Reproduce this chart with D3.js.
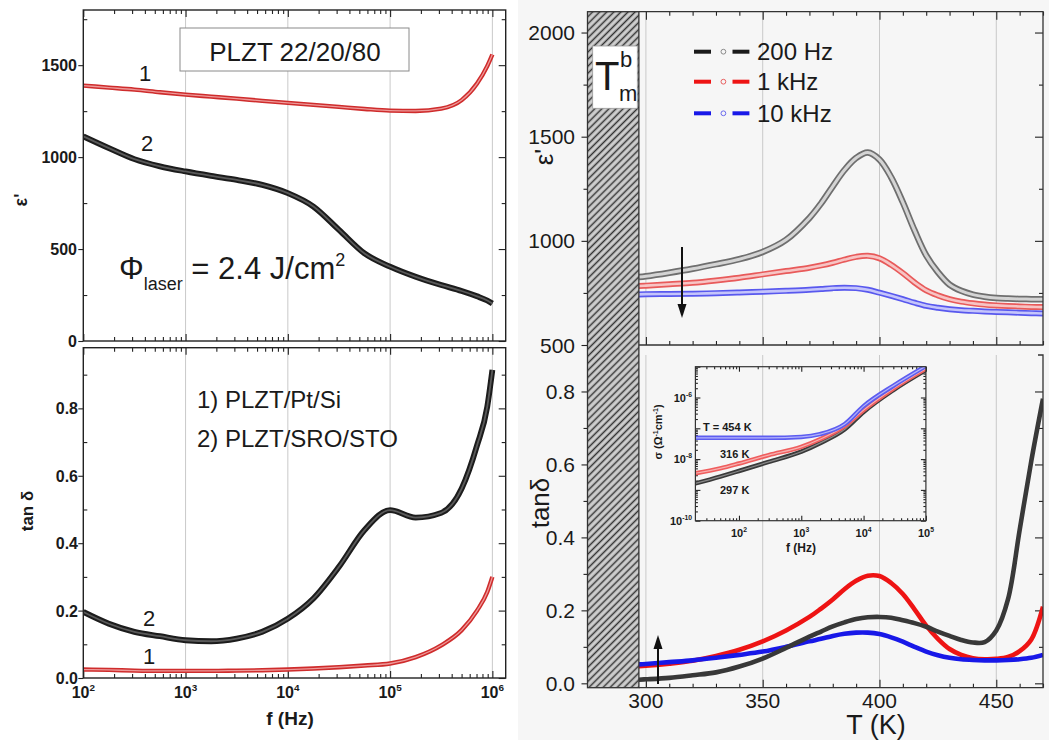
<!DOCTYPE html>
<meta charset="utf-8">
<style>
body { margin: 0; background: #fff; }
text { font-family: "Liberation Sans", Arial, Helvetica, sans-serif; fill: #1a1a1a; }
.tk line { stroke: #222; stroke-width: 1.1; }
.grid { stroke: #c9c9c9; stroke-width: 1; }
</style>
<body>
<script src="https://d3js.org/d3.v7.min.js"></script>
<script>
// ---------- left: room temperature spectra ----------
var freqL = [100, 178, 316, 562, 1000, 1778, 3162, 5623, 10000, 17783, 31623, 56234,
             100000, 177828, 316228, 501187, 707946, 891251, 1000000];
// curve 1 = PLZT/Pt/Si (red), curve 2 = PLZT/SRO/STO (black)
var epsPtSi = [1389, 1378, 1367, 1353, 1340, 1329, 1318, 1306, 1295, 1284, 1273, 1262,
               1253, 1251, 1264, 1310, 1400, 1495, 1558];
var epsSro  = [1113, 1049, 989, 950, 922, 898, 876, 849, 804, 731, 604, 476,
               404, 349, 304, 272, 243, 220, 204];
var tanPtSi = [0.025, 0.024, 0.022, 0.021, 0.021, 0.021, 0.022, 0.023, 0.025, 0.028, 0.032, 0.037,
               0.043, 0.062, 0.097, 0.142, 0.2, 0.255, 0.3];
var tanSro  = [0.196, 0.161, 0.137, 0.124, 0.112, 0.109, 0.117, 0.137, 0.176, 0.236, 0.33, 0.439,
               0.498, 0.476, 0.49, 0.562, 0.69, 0.805, 0.914];

// ---------- right: temperature dependence ----------
var tempK = [297, 300, 310, 320, 330, 340, 350, 360, 370, 375, 380, 385, 390, 395, 400,
             405, 410, 415, 420, 425, 430, 435, 440, 445, 450, 455, 460, 465, 470];
var eps200 = [826, 830, 847, 866, 888, 912, 947, 1005, 1110, 1180, 1262, 1340, 1398, 1424, 1390,
              1305, 1185, 1050, 930, 850, 790, 760, 742, 732, 726, 723, 721, 720, 720];
var eps1k  = [783, 785, 792, 799, 810, 823, 839, 855, 871, 882, 895, 910, 923, 928, 916,
              885, 845, 800, 762, 738, 720, 708, 700, 694, 690, 687, 685, 683, 682];
var eps10k = [743, 744, 745, 746, 749, 752, 756, 760, 765, 769, 773, 775, 773, 765, 751,
              736, 720, 703, 688, 679, 672, 667, 664, 661, 659, 657, 655, 653, 651];
var tan200 = [0.010, 0.011, 0.015, 0.022, 0.030, 0.046, 0.068, 0.097, 0.128, 0.142, 0.156, 0.167, 0.176, 0.181, 0.182,
              0.180, 0.173, 0.165, 0.155, 0.142, 0.130, 0.119, 0.112, 0.113, 0.145, 0.23, 0.42, 0.61, 0.78];
var tan1k  = [0.047, 0.048, 0.054, 0.062, 0.075, 0.092, 0.115, 0.145, 0.182, 0.205, 0.23, 0.258, 0.281, 0.295, 0.294,
              0.275, 0.245, 0.203, 0.158, 0.122, 0.094, 0.078, 0.069, 0.066, 0.067, 0.072, 0.088, 0.12, 0.21];
var tan10k = [0.052, 0.053, 0.058, 0.063, 0.070, 0.078, 0.087, 0.100, 0.115, 0.122, 0.130, 0.136, 0.139, 0.139, 0.135,
              0.126, 0.114, 0.100, 0.087, 0.077, 0.070, 0.066, 0.064, 0.063, 0.063, 0.064, 0.066, 0.070, 0.078];
var legendLabels = ["200 Hz", "1 kHz", "10 kHz"];

// inset: conductivity spectra
var freqIn = [20, 50, 100, 300, 1000, 2000, 5000, 10000, 30000, 100000];
var sig454 = [4.9e-8, 4.9e-8, 4.9e-8, 4.9e-8, 5.25e-8, 6.46e-8, 1.38e-7, 5.25e-7, 2.4e-6, 1.05e-5];
var sig316 = [3.47e-9, 5.0e-9, 7.2e-9, 1.35e-8, 2.5e-8, 4.4e-8, 1.2e-7, 3.9e-7, 1.95e-6, 8.7e-6];
var sig297 = [1.62e-9, 2.7e-9, 4.1e-9, 8.1e-9, 1.74e-8, 3.3e-8, 9.3e-8, 3.4e-7, 1.74e-6, 7.8e-6];

var svg = d3.select("body").append("svg").attr("width", 1049).attr("height", 740);
svg.append("rect").attr("width", 1049).attr("height", 740).attr("fill", "#fff");
svg.append("rect").attr("x", 518).attr("width", 531).attr("height", 740).attr("fill", "#f6f6f6");

var defs = svg.append("defs");
var pat = defs.append("pattern").attr("id", "hatch").attr("patternUnits", "userSpaceOnUse")
    .attr("width", 5).attr("height", 5).attr("patternTransform", "rotate(45)");
pat.append("rect").attr("width", 5).attr("height", 5).attr("fill", "#cfcfcf");
pat.append("line").attr("x1", 2.5).attr("y1", 0).attr("x2", 2.5).attr("y2", 5)
    .attr("stroke", "#333").attr("stroke-width", 1.5);

function clip(id, x0, y0, x1, y1) {
  defs.append("clipPath").attr("id", id).append("rect")
      .attr("x", x0).attr("y", y0).attr("width", x1 - x0).attr("height", y1 - y0);
}

// draw ticks only (no domain) with a d3 axis
function ticks(axisFn, scale, vals, size, tr) {
  svg.append("g").attr("class", "tk").attr("transform", tr)
     .call(axisFn(scale).tickValues(vals).tickSize(size).tickFormat(""))
     .call(function(s) { s.select(".domain").remove(); });
}
function logMinor(lo, hi) {
  var out = [];
  for (var k = -12; k < 8; k++) for (var m = 2; m < 10; m++) {
    var v = m * Math.pow(10, k);
    if (v > lo && v < hi) out.push(v);
  }
  return out;
}
function powText(x, y, base, exp, size, anchor, weight) {
  var t = svg.append("text").attr("x", x).attr("y", y).attr("text-anchor", anchor)
      .style("font-size", size + "px").style("font-weight", weight || "normal");
  t.append("tspan").text(base);
  t.append("tspan").attr("dy", -size * 0.45).style("font-size", (size * 0.62) + "px").text(exp);
  return t;
}
function band(g, line, data, outer, inner, wo, wi) {
  g.append("path").datum(data).attr("d", line).attr("fill", "none")
   .attr("stroke", outer).attr("stroke-width", wo).attr("stroke-linejoin", "round");
  if (inner) g.append("path").datum(data).attr("d", line).attr("fill", "none")
   .attr("stroke", inner).attr("stroke-width", wi).attr("stroke-linejoin", "round");
}
function frame(x0, y0, x1, y1, col, w) {
  svg.append("rect").attr("x", x0).attr("y", y0).attr("width", x1 - x0).attr("height", y1 - y0)
     .attr("fill", "none").attr("stroke", col || "#222").attr("stroke-width", w || 1.3);
}

// ================= LEFT PANELS =================
var LX0 = 83.3, LX1 = 505.7;
var xL = d3.scaleLog().domain([100, 1.35e6]).range([LX0, LX1]);
var yLt = d3.scaleLinear().domain([0, 1800]).range([341, 10]);
var yLb = d3.scaleLinear().domain([0, 0.98]).range([678, 347.7]);
var decL = [1e2, 1e3, 1e4, 1e5, 1e6];
var minL = logMinor(100, 1.35e6);

[[yLt, 10, 341], [yLb, 347.7, 678]].forEach(function(p) {
  svg.selectAll(null).data([1e3, 1e4, 1e5, 1e6]).enter().append("line").attr("class", "grid")
     .attr("x1", function(d) { return xL(d); }).attr("x2", function(d) { return xL(d); })
     .attr("y1", p[1]).attr("y2", p[2]);
  ticks(d3.axisTop, xL, decL, -7, "translate(0," + p[1] + ")");
  ticks(d3.axisTop, xL, minL, -4, "translate(0," + p[1] + ")");
  ticks(d3.axisBottom, xL, decL, -7, "translate(0," + p[2] + ")");
  ticks(d3.axisBottom, xL, minL, -4, "translate(0," + p[2] + ")");
});
ticks(d3.axisLeft, yLt, [0, 500, 1000, 1500], 5, "translate(" + LX0 + ",0)");
ticks(d3.axisLeft, yLt, [250, 750, 1250, 1750], -4, "translate(" + LX0 + ",0)");
ticks(d3.axisRight, yLt, [0, 500, 1000, 1500], -7, "translate(" + LX1 + ",0)");
ticks(d3.axisRight, yLt, [250, 750, 1250, 1750], -4, "translate(" + LX1 + ",0)");
ticks(d3.axisLeft, yLb, [0, 0.2, 0.4, 0.6, 0.8], 5, "translate(" + LX0 + ",0)");
ticks(d3.axisLeft, yLb, [0.1, 0.3, 0.5, 0.7, 0.9], -4, "translate(" + LX0 + ",0)");
ticks(d3.axisRight, yLb, [0, 0.2, 0.4, 0.6, 0.8], -7, "translate(" + LX1 + ",0)");
ticks(d3.axisRight, yLb, [0.1, 0.3, 0.5, 0.7, 0.9], -4, "translate(" + LX1 + ",0)");

clip("cLt", LX0, 10, LX1, 341);
clip("cLb", LX0, 347.7, LX1, 678);
var lineLt = d3.line().x(function(d) { return xL(d[0]); }).y(function(d) { return yLt(d[1]); }).curve(d3.curveMonotoneX);
var lineLb = d3.line().x(function(d) { return xL(d[0]); }).y(function(d) { return yLb(d[1]); }).curve(d3.curveMonotoneX);
var gLt = svg.append("g").attr("clip-path", "url(#cLt)");
band(gLt, lineLt, d3.zip(freqL, epsPtSi), "#cf2c2c", "#ee9a9a", 4.4, 1.3);
band(gLt, lineLt, d3.zip(freqL, epsSro), "#1c1c1c", "#5a5a5a", 5.8, 1.8);
var gLb = svg.append("g").attr("clip-path", "url(#cLb)");
band(gLb, lineLb, d3.zip(freqL, tanPtSi), "#cf2c2c", "#ee9a9a", 4.4, 1.3);
band(gLb, lineLb, d3.zip(freqL, tanSro), "#1c1c1c", "#5a5a5a", 5.8, 1.8);

frame(LX0, 10, LX1, 341, "#222", 1.4);
frame(LX0, 347.7, LX1, 678, "#222", 1.4);

svg.selectAll(null).data([0, 500, 1000, 1500]).enter().append("text")
   .attr("x", 77).attr("y", function(d) { return yLt(d) + 6; }).attr("text-anchor", "end")
   .style("font-size", "16px").style("font-weight", "bold").text(function(d) { return d; });
svg.selectAll(null).data([0, 0.2, 0.4, 0.6, 0.8]).enter().append("text")
   .attr("x", 78).attr("y", function(d) { return yLb(d) + 6; }).attr("text-anchor", "end")
   .style("font-size", "16px").style("font-weight", "bold").text(function(d) { return d.toFixed(1); });
decL.forEach(function(d) { powText(xL(d), 698, "10", Math.log10(d), 16, "middle", "bold"); });

svg.append("text").attr("x", 290).attr("y", 725).attr("text-anchor", "middle")
   .style("font-size", "19px").style("font-weight", "bold").text("f (Hz)");
svg.append("text").attr("transform", "translate(27,200) rotate(-90)").attr("text-anchor", "middle")
   .style("font-size", "18px").style("font-weight", "bold").text("ε'");
svg.append("text").attr("transform", "translate(33,511) rotate(-90)").attr("text-anchor", "middle")
   .style("font-size", "17px").style("font-weight", "bold").text("tan δ");

svg.append("rect").attr("x", 180).attr("y", 28).attr("width", 229).attr("height", 43)
   .attr("fill", "#fff").attr("stroke", "#8a8a8a").attr("stroke-width", 1);
svg.append("text").attr("x", 295).attr("y", 61).attr("text-anchor", "middle")
   .style("font-size", "26px").text("PLZT 22/20/80");

var phi = svg.append("text").attr("x", 119).attr("y", 279).style("font-size", "31px");
phi.append("tspan").text("Φ");
phi.append("tspan").attr("dy", 11).style("font-size", "18px").text("laser");
phi.append("tspan").attr("dy", -11).text(" = 2.4 J/cm");
phi.append("tspan").attr("dy", -13).style("font-size", "18px").text("2");

svg.append("text").attr("x", 139).attr("y", 81).style("font-size", "22px").text("1");
svg.append("text").attr("x", 141).attr("y", 151).style("font-size", "22px").text("2");
svg.append("text").attr("x", 143).attr("y", 626).style("font-size", "22px").text("2");
svg.append("text").attr("x", 143).attr("y", 664).style("font-size", "22px").text("1");
svg.append("text").attr("x", 197).attr("y", 408).style("font-size", "24px").text("1) PLZT/Pt/Si");
svg.append("text").attr("x", 197).attr("y", 447).style("font-size", "24px").text("2) PLZT/SRO/STO");

// ================= RIGHT PANELS =================
var RX0 = 587.5, RX1 = 1043;
var xR = d3.scaleLinear().domain([275, 470]).range([RX0, RX1]);
var yRt = d3.scaleLinear().domain([500, 2100]).range([345, 11.7]);
var yRb = d3.scaleLinear().domain([-0.012, 0.9]).range([687.7, 355]);
var majR = [300, 350, 400, 450];
var minR = d3.range(280, 471, 10).filter(function(d) { return d % 50 !== 0; });

[[11.7, 345], [355, 687.7]].forEach(function(p) {
  svg.selectAll(null).data(majR).enter().append("line").attr("class", "grid")
     .attr("x1", function(d) { return xR(d); }).attr("x2", function(d) { return xR(d); })
     .attr("y1", p[0]).attr("y2", p[1]);
});
ticks(d3.axisTop, xR, majR, -8, "translate(0,11.7)");
ticks(d3.axisTop, xR, minR, -4, "translate(0,11.7)");
ticks(d3.axisBottom, xR, majR, -8, "translate(0,345)");
ticks(d3.axisBottom, xR, minR, -4, "translate(0,345)");
ticks(d3.axisBottom, xR, majR, -8, "translate(0,687.7)");
ticks(d3.axisBottom, xR, minR, -4, "translate(0,687.7)");
ticks(d3.axisLeft, yRt, [500, 1000, 1500, 2000], 6, "translate(" + RX0 + ",0)");
ticks(d3.axisLeft, yRt, [750, 1250, 1750], 4, "translate(" + RX0 + ",0)");
ticks(d3.axisRight, yRt, [1000, 1500, 2000], -8, "translate(" + RX1 + ",0)");
ticks(d3.axisRight, yRt, [750, 1250, 1750], -4, "translate(" + RX1 + ",0)");
ticks(d3.axisLeft, yRb, [0, 0.2, 0.4, 0.6, 0.8], 6, "translate(" + RX0 + ",0)");
ticks(d3.axisLeft, yRb, [0.1, 0.3, 0.5, 0.7], 4, "translate(" + RX0 + ",0)");
ticks(d3.axisRight, yRb, [0, 0.2, 0.4, 0.6, 0.8], -8, "translate(" + RX1 + ",0)");
ticks(d3.axisRight, yRb, [0.1, 0.3, 0.5, 0.7], -4, "translate(" + RX1 + ",0)");

clip("cRt", RX0, 11.7, RX1, 345);
clip("cRb", RX0, 355, RX1, 687.7);
var lineRt = d3.line().x(function(d) { return xR(d[0]); }).y(function(d) { return yRt(d[1]); }).curve(d3.curveCatmullRom.alpha(0.5));
var lineRb = d3.line().x(function(d) { return xR(d[0]); }).y(function(d) { return yRb(d[1]); }).curve(d3.curveCatmullRom.alpha(0.5));
var gRt = svg.append("g").attr("clip-path", "url(#cRt)");
band(gRt, lineRt, d3.zip(tempK, eps200), "#6f6f6f", "#d4d4d4", 6.5, 3);
band(gRt, lineRt, d3.zip(tempK, eps1k), "#e85a5a", "#f7c4c4", 6, 2.6);
band(gRt, lineRt, d3.zip(tempK, eps10k), "#5858ee", "#c4c4fb", 6, 2.6);
var gRb = svg.append("g").attr("clip-path", "url(#cRb)");
band(gRb, lineRb, d3.zip(tempK, tan1k), "#ee1414", null, 4.6);
band(gRb, lineRb, d3.zip(tempK, tan10k), "#1818e8", null, 4.6);
band(gRb, lineRb, d3.zip(tempK, tan200), "#383838", null, 4.6);

// hatched region below measurement range
svg.append("rect").attr("x", RX0).attr("y", 11.7).attr("width", xR(297) - RX0).attr("height", 687.7 - 11.7)
   .attr("fill", "url(#hatch)").attr("stroke", "#333").attr("stroke-width", 1.3);
// frames
svg.append("path").attr("fill", "none").attr("stroke", "#333").attr("stroke-width", 1.3)
   .attr("d", "M" + xR(297) + ",11.7H" + RX1 + "V345H" + xR(297));
svg.append("path").attr("fill", "none").attr("stroke", "#333").attr("stroke-width", 1.3)
   .attr("d", "M" + (RX1 - 5) + ",355H" + RX1 + "V687.7H" + xR(297));

svg.selectAll(null).data([500, 1000, 1500, 2000]).enter().append("text")
   .attr("x", 575).attr("y", function(d) { return yRt(d) + 7.5; }).attr("text-anchor", "end")
   .style("font-size", "21px").text(function(d) { return d; });
svg.selectAll(null).data([0, 0.2, 0.4, 0.6, 0.8]).enter().append("text")
   .attr("x", 575).attr("y", function(d) { return yRb(d) + 7.5; }).attr("text-anchor", "end")
   .style("font-size", "21px").text(function(d) { return d.toFixed(1); });
svg.selectAll(null).data(majR).enter().append("text")
   .attr("x", function(d) { return xR(d); }).attr("y", 708).attr("text-anchor", "middle")
   .style("font-size", "21px").text(function(d) { return d; });
svg.append("text").attr("x", 876).attr("y", 734).attr("text-anchor", "middle")
   .style("font-size", "27px").text("T (K)");
svg.append("text").attr("transform", "translate(553,157) rotate(-90)").attr("text-anchor", "middle")
   .style("font-size", "26px").text("ε'");
svg.append("text").attr("transform", "translate(549,503) rotate(-90)").attr("text-anchor", "middle")
   .style("font-size", "26px").text("tanδ");

// T_m^b box
svg.append("rect").attr("x", 592.7).attr("y", 46).attr("width", 44.6).attr("height", 62.3)
   .attr("fill", "#fff").attr("stroke", "#999").attr("stroke-width", 0.8);
svg.append("text").attr("x", 595).attr("y", 90).style("font-size", "40px").text("T");
svg.append("text").attr("x", 620).attr("y", 67).style("font-size", "22px").text("b");
svg.append("text").attr("x", 619).attr("y", 101).style("font-size", "22px").text("m");

// legend
var legCol = [["#1a1a1a", "#8a8a8a"], ["#ee1414", "#e86060"], ["#1818e8", "#6a6aee"]];
var legY = [51.7, 81.7, 113.3];
legendLabels.forEach(function(lab, i) {
  var y = legY[i];
  svg.append("line").attr("x1", 694).attr("x2", 711).attr("y1", y).attr("y2", y)
     .attr("stroke", legCol[i][0]).attr("stroke-width", 4);
  svg.append("line").attr("x1", 732.5).attr("x2", 749.4).attr("y1", y).attr("y2", y)
     .attr("stroke", legCol[i][0]).attr("stroke-width", 4);
  svg.append("circle").attr("cx", 723.4).attr("cy", y).attr("r", 2.4)
     .attr("fill", "none").attr("stroke", legCol[i][1]).attr("stroke-width", 1);
  svg.append("text").attr("x", 757).attr("y", y + 8.5).style("font-size", "24px").text(lab);
});

// arrows
function arrow(x, yFrom, yTo) {
  var dir = yTo > yFrom ? 1 : -1;
  svg.append("line").attr("x1", x).attr("x2", x).attr("y1", yFrom).attr("y2", yTo - dir * 12)
     .attr("stroke", "#111").attr("stroke-width", 2);
  svg.append("path").attr("fill", "#111")
     .attr("d", "M" + (x - 4.5) + "," + (yTo - dir * 14) + "L" + x + "," + yTo + "L" + (x + 4.5) + "," + (yTo - dir * 14) + "Z");
}
arrow(682, 247, 318);
arrow(658, 684, 635);

// ---- inset ----
var IX0 = 695.4, IX1 = 925.9, IY0 = 366.7, IY1 = 520.7;
var xI = d3.scaleLog().domain([20, 1e5]).range([IX0, IX1]);
var yI = d3.scaleLog().domain([1e-10, 1e-5]).range([IY1, IY0]);
var decIx = [1e2, 1e3, 1e4, 1e5], minIx = logMinor(20, 1e5);
var decIy = [1e-10, 1e-9, 1e-8, 1e-7, 1e-6, 1e-5], minIy = logMinor(1e-10, 1e-5);
ticks(d3.axisBottom, xI, decIx, -5, "translate(0," + IY1 + ")");
ticks(d3.axisBottom, xI, minIx, -2.5, "translate(0," + IY1 + ")");
ticks(d3.axisTop, xI, decIx, -5, "translate(0," + IY0 + ")");
ticks(d3.axisTop, xI, minIx, -2.5, "translate(0," + IY0 + ")");
ticks(d3.axisLeft, yI, decIy, -5, "translate(" + IX0 + ",0)");
ticks(d3.axisLeft, yI, minIy, -2.5, "translate(" + IX0 + ",0)");
ticks(d3.axisRight, yI, decIy, -5, "translate(" + IX1 + ",0)");
ticks(d3.axisRight, yI, minIy, -2.5, "translate(" + IX1 + ",0)");
clip("cIn", IX0, IY0, IX1, IY1);
var lineI = d3.line().x(function(d) { return xI(d[0]); }).y(function(d) { return yI(d[1]); }).curve(d3.curveMonotoneX);
var gI = svg.append("g").attr("clip-path", "url(#cIn)");
band(gI, lineI, d3.zip(freqIn, sig297), "#3a3a3a", "#8a8a8a", 4.5, 1.2);
band(gI, lineI, d3.zip(freqIn, sig316), "#ef5d5d", "#f7b0b0", 4.5, 1.2);
band(gI, lineI, d3.zip(freqIn, sig454), "#5d5df0", "#b4b4fb", 4.5, 1.2);
frame(IX0, IY0, IX1, IY1, "#333", 1.2);

[1e-6, 1e-8, 1e-10].forEach(function(d) {
  powText(692, yI(d) + 4, "10", "-" + Math.round(-Math.log10(d)), 11, "end", "bold");
});
decIx.forEach(function(d) { powText(xI(d), 537, "10", Math.round(Math.log10(d)), 11, "middle", "bold"); });
svg.append("text").attr("x", 801).attr("y", 552).attr("text-anchor", "middle")
   .style("font-size", "12px").style("font-weight", "bold").text("f (Hz)");
var sl = svg.append("text").attr("transform", "translate(662,432) rotate(-90)").attr("text-anchor", "middle")
   .style("font-size", "11px").style("font-weight", "bold");
sl.append("tspan").text("σ (Ω");
sl.append("tspan").attr("dy", -4).style("font-size", "7px").text("-1");
sl.append("tspan").attr("dy", 4).text("cm");
sl.append("tspan").attr("dy", -4).style("font-size", "7px").text("-1");
sl.append("tspan").attr("dy", 4).text(")");
svg.append("text").attr("x", 703).attr("y", 431).style("font-size", "11px").style("font-weight", "bold").text("T = 454 K");
svg.append("text").attr("x", 720).attr("y", 458).style("font-size", "11px").style("font-weight", "bold").text("316 K");
svg.append("text").attr("x", 720).attr("y", 494).style("font-size", "11px").style("font-weight", "bold").text("297 K");
</script>
</body>
